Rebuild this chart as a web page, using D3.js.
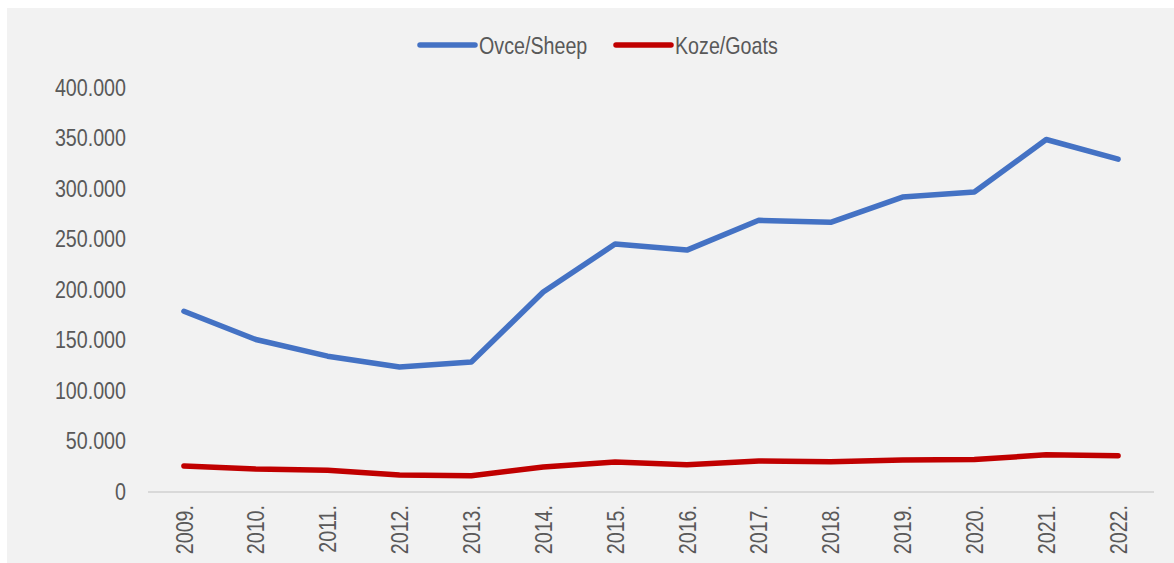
<!DOCTYPE html>
<html>
<head>
<meta charset="utf-8">
<script src="https://cdn.jsdelivr.net/npm/d3@7"></script>
<style>
  body { margin: 0; background: #fff; }
  svg text { font-family: "Liberation Sans", Arial, sans-serif; fill: #595959; }
</style>
</head>
<body>
<svg id="chart" width="1174" height="563"></svg>
<script>
// data
const years = ["2009.", "2010.", "2011.", "2012.", "2013.", "2014.", "2015.",
  "2016.", "2017.", "2018.", "2019.", "2020.", "2021.", "2022."];
const sheep = [178000, 150000, 133500, 122800, 127700, 197000, 244500,
  238500, 268000, 266000, 291000, 296000, 348000, 328500];
const goats = [24800, 21800, 20500, 15900, 15200, 23800, 28700,
  25900, 29700, 28900, 30700, 31200, 35800, 34900];
const yTicks = [0, 50000, 100000, 150000, 200000, 250000, 300000, 350000, 400000];

const series = [
  { name: "Ovce/Sheep", values: sheep, color: "#4472c4" },
  { name: "Koze/Goats", values: goats, color: "#c00000" }
];

const svg = d3.select("#chart");

// grey plot background
svg.append("rect")
  .attr("x", 7).attr("y", 8)
  .attr("width", 1167).attr("height", 555)
  .attr("fill", "#f2f2f2");

const x = d3.scaleBand().domain(years).range([148, 1154]);
const y = d3.scaleLinear().domain([0, 400000]).range([491, 87]);

const fmt = d3.formatLocale({ decimal: ",", thousands: ".", grouping: [3], currency: ["", ""] }).format(",d");
const narrow = "scale(0.82,1)"; // text in the picture is condensed

// y labels
svg.append("g").selectAll("text")
  .data(yTicks)
  .enter()
  .append("text")
  .attr("transform", d => `translate(126,${y(d)}) ${narrow}`)
  .attr("text-anchor", "end")
  .attr("dy", "0.36em")
  .style("font-size", "24px")
  .text(d => fmt(d));

// x axis line
svg.append("line")
  .attr("x1", 148).attr("x2", 1154)
  .attr("y1", y(0) + 1).attr("y2", y(0) + 1)
  .attr("stroke", "#d9d9d9")
  .attr("stroke-width", 2);

// x labels, rotated
svg.append("g").selectAll("text")
  .data(years)
  .enter()
  .append("text")
  .attr("transform", d => `translate(${x(d) + x.bandwidth() / 2},505) rotate(-90) ${narrow}`)
  .attr("text-anchor", "end")
  .attr("dy", "0.36em")
  .style("font-size", "24px")
  .text(d => d);

// lines
const line = d3.line()
  .x((d, i) => x(years[i]) + x.bandwidth() / 2)
  .y(d => y(d));

svg.append("g").selectAll("path")
  .data(series)
  .enter()
  .append("path")
  .attr("d", d => line(d.values))
  .attr("fill", "none")
  .attr("stroke", d => d.color)
  .attr("stroke-width", 5.5)
  .attr("stroke-linecap", "round")
  .attr("stroke-linejoin", "round");

// legend
const legendX = [420, 616];
const legend = svg.append("g").attr("id", "legend");
series.forEach((s, i) => {
  legend.append("line")
    .attr("x1", legendX[i]).attr("x2", legendX[i] + 55)
    .attr("y1", 45).attr("y2", 45)
    .attr("stroke", s.color)
    .attr("stroke-width", 5.5)
    .attr("stroke-linecap", "round");
  legend.append("text")
    .attr("transform", `translate(${legendX[i] + 59},45) ${narrow}`)
    .attr("dy", "0.36em")
    .style("font-size", "24px")
    .text(s.name);
});
</script>
</body>
</html>
